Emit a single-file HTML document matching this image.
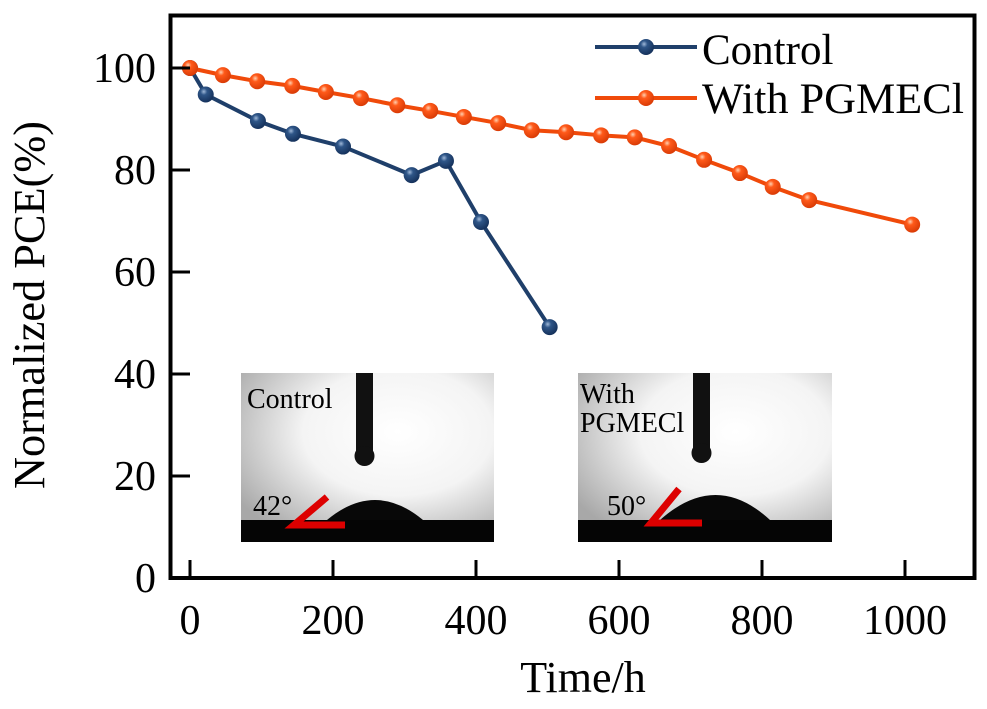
<!DOCTYPE html>
<html><head><meta charset="utf-8"><style>
html,body{margin:0;padding:0;background:#fff}
svg{display:block;font-family:"Liberation Serif",serif}
</style></head><body>
<svg width="987" height="709" viewBox="0 0 987 709">
<defs>
<radialGradient id="gb" cx="0.38" cy="0.32" r="0.7"><stop offset="0" stop-color="#9fb8d8"/><stop offset="0.3" stop-color="#2f5688"/><stop offset="1" stop-color="#14305a"/></radialGradient>
<radialGradient id="go" cx="0.38" cy="0.32" r="0.7"><stop offset="0" stop-color="#ffd0b0"/><stop offset="0.3" stop-color="#ff5a1a"/><stop offset="1" stop-color="#d83a05"/></radialGradient>
<radialGradient id="bg" cx="0.62" cy="0.35" r="0.75"><stop offset="0" stop-color="#ffffff"/><stop offset="0.5" stop-color="#f4f4f4"/><stop offset="1" stop-color="#a8a8a8"/></radialGradient>
</defs>
<g id="plot"></g>
<text x="44" y="305" font-size="44" text-anchor="middle" transform="rotate(-90 44 305)" textLength="368" lengthAdjust="spacingAndGlyphs">Normalized PCE(%)</text>
<text x="583" y="692" font-size="44" text-anchor="middle">Time/h</text>
<g>
<g>
<line x1="595" y1="47" x2="697" y2="47" stroke="#1f3f6a" stroke-width="4"/>
<circle cx="646" cy="47" r="8" fill="url(#gb)"/>
<text x="702" y="64" font-size="43">Control</text></g>
<g>
<line x1="595" y1="98" x2="697" y2="98" stroke="#f04a0a" stroke-width="4"/>
<circle cx="646" cy="98" r="8" fill="url(#go)"/>
<text x="702" y="113" font-size="43" textLength="262" lengthAdjust="spacingAndGlyphs">With PGMECl</text></g>
</g>
<g>
<rect x="241" y="373" width="253" height="169" fill="url(#bg)"/>
<rect x="241" y="520" width="253" height="22" fill="#050505"/>
<path d="M327 520 Q375 480 423 520 Z" fill="#080808"/>
<rect x="356" y="373" width="17" height="82" fill="#111"/>
<circle cx="364.5" cy="456" r="10" fill="#111"/>
<polyline points="327,497 294,525 345,525" fill="none" stroke="#d00" stroke-width="7"/>
<text x="247" y="408" font-size="28">Control</text>
<text x="253" y="515" font-size="28">42°</text>
</g>
<g>
<rect x="578" y="373" width="254" height="169" fill="url(#bg)"/>
<rect x="578" y="520" width="254" height="22" fill="#050505"/>
<path d="M660 520 Q716 470 770 520 Z" fill="#080808"/>
<rect x="693" y="373" width="17" height="80" fill="#111"/>
<circle cx="701.5" cy="453" r="10" fill="#111"/>
<polyline points="679,489 651,523 702,523" fill="none" stroke="#d00" stroke-width="7"/>
<text x="580" y="403" font-size="28">With</text>
<text x="580" y="432" font-size="28">PGMECl</text>
<text x="607" y="515" font-size="28">50°</text>
</g>
<rect x="170.5" y="15.5" width="804" height="562.5" fill="none" stroke="#000" stroke-width="4"/>
<g id="axes"></g>
</svg>
<script>
const xTicks = [0, 200, 400, 600, 800, 1000];
const yTicks = [0, 20, 40, 60, 80, 100];
const controlTime = [0, 22, 95, 144, 214, 310, 358, 407, 503];
const controlPCE = [100, 94.8, 89.6, 87.1, 84.6, 79.0, 81.8, 69.8, 49.2];
const pgmeclTime = [0, 46, 94, 143, 190, 239, 290, 336, 383, 431, 478, 526, 575, 622, 670, 719, 769, 815, 866, 1010];
const pgmeclPCE = [100, 98.6, 97.4, 96.5, 95.3, 94.1, 92.7, 91.6, 90.4, 89.2, 87.8, 87.4, 86.8, 86.4, 84.7, 82.0, 79.4, 76.7, 74.1, 69.3];

const NS = 'http://www.w3.org/2000/svg';
const xs = v => 190 + v * 0.715;
const ys = v => 578 - v * 5.1;
const plot = document.getElementById('plot');
const axes = document.getElementById('axes');
function mk(tag, attrs, parent){const e=document.createElementNS(NS,tag);for(const k in attrs)e.setAttribute(k,attrs[k]);parent.appendChild(e);return e;}

xTicks.forEach(t=>{
  const l=mk('line',{x1:xs(t),x2:xs(t),y1:578,y2:560,stroke:'#000','stroke-width':3},axes);
  
  
  const tx=mk('text',{x:xs(t),y:634,'font-size':42,'text-anchor':'middle'},axes);
  tx.textContent=t;
  
  
});
yTicks.forEach(t=>{
  if(t>0){const l=mk('line',{x1:170,x2:190,y1:ys(t),y2:ys(t),stroke:'#000','stroke-width':3},axes);
  
  }
  const tx=mk('text',{x:156,y:ys(t)+14,'font-size':42,'text-anchor':'end'},axes);
  tx.textContent=t;
  
  
});
function series(tArr,vArr,color,grad,name){
  const pts=tArr.map((t,i)=>xs(t)+','+ys(vArr[i])).join(' ');
  const pl=mk('polyline',{points:pts,fill:'none',stroke:color,'stroke-width':4,'stroke-linejoin':'round'},plot);
  
  
  tArr.forEach((t,i)=>{
    const c=mk('circle',{cx:xs(t),cy:ys(vArr[i]),r:8,fill:'url(#'+grad+')'},plot);
    
    
  });
}
series(controlTime,controlPCE,'#1f3f6a','gb','control');
series(pgmeclTime,pgmeclPCE,'#f04a0a','go','pgmecl');
</script>
</body></html>
